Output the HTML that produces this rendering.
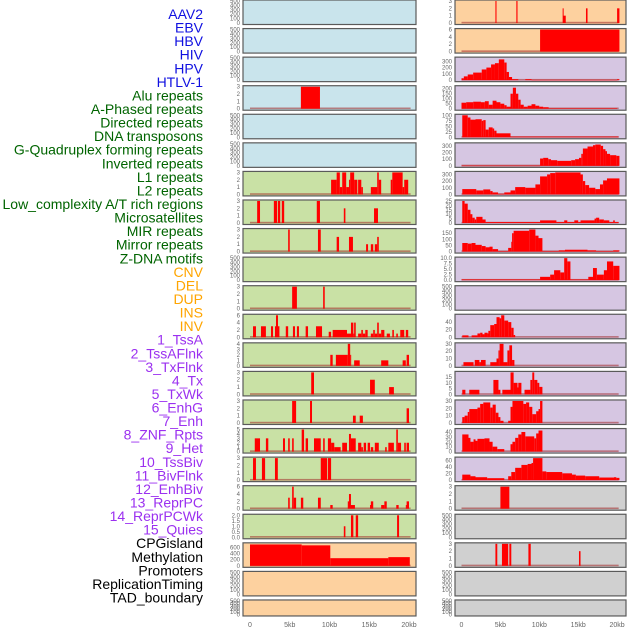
<!DOCTYPE html>
<html><head><meta charset="utf-8"><style>
html,body{margin:0;padding:0;background:#fff;width:630px;height:630px;overflow:hidden}
svg{display:block}
</style></head><body>
<svg id="chart" width="630" height="630" xmlns="http://www.w3.org/2000/svg" font-family="Liberation Sans, sans-serif"></svg>
<script>
const trackLabels=["AAV2","EBV","HBV","HIV","HPV","HTLV-1","Alu repeats","A-Phased repeats","Directed repeats","DNA transposons","G-Quadruplex forming repeats","Inverted repeats","L1 repeats","L2 repeats","Low_complexity A/T rich regions","Microsatellites","MIR repeats","Mirror repeats","Z-DNA motifs","CNV","DEL","DUP","INS","INV","1_TssA","2_TssAFlnk","3_TxFlnk","4_Tx","5_TxWk","6_EnhG","7_Enh","8_ZNF_Rpts","9_Het","10_TssBiv","11_BivFlnk","12_EnhBiv","13_ReprPC","14_ReprPCWk","15_Quies","CPGisland","Methylation","Promoters","ReplicationTiming","TAD_boundary"];
const labelGroups=["v","v","v","v","v","v","r","r","r","r","r","r","r","r","r","r","r","r","r","s","s","s","s","s","c","c","c","c","c","c","c","c","c","c","c","c","c","c","c","o","o","o","o","o"];
const xTickLabels=["0","5kb","10kb","15kb","20kb"];
const xTickValues=[0,5,10,15,20];
const leftBg=["b","b","b","b","b","b","g","g","g","g","g","g","g","g","g","g","g","g","g","o","o","o"];
const rightBg=["o","o","p","p","p","p","p","p","p","p","p","p","p","p","p","p","p","g2","g2","g2","g2","g2"];
const leftYmax=[500,500,500,3,500,500,3,3,3,500,3,6,4,3,3,5,3,6,2,720,500,500];
const rightYmax=[3,6,350,220,100,330,330,25,180,10,500,58,30,19,30,45,68,3,500,3,500,500];
const leftTicks=[[0,100,200,300,400,500],[0,100,200,300,400,500],[0,100,200,300,400,500],[0,1,2,3],[0,100,200,300,400,500],[0,100,200,300,400,500],[0,1,2,3],[0,1,2,3],[0,1,2,3],[0,100,200,300,400,500],[0,1,2,3],[0,2,4,6],[0,1,2,3,4],[0,1,2,3],[0,1,2,3],[0,1,2,3,4,5],[0,1,2,3],[0,2,4,6],["0.0","0.5","1.0","1.5","2.0"],[0,200,400,600],[0,100,200,300,400,500],[0,100,200,300,400,500]];
const rightTicks=[[0,1,2,3],[0,2,4,6],[0,100,200,300],[0,50,100,150,200],[0,25,50,75,100],[0,100,200,300],[0,100,200,300],[0,5,10,15,20,25],[0,50,100,150],["0.0","2.5","5.0","7.5","10.0"],[0,100,200,300,400,500],[0,20,40],[0,10,20,30],[0,5,10,15],[0,10,20,30],[0,10,20,30,40],[0,20,40,60],[0,1,2,3],[0,100,200,300,400,500],[0,1,2,3],[0,100,200,300,400,500],[0,100,200,300,400,500]];
const leftSegs=[[],[],[],[[6.4,8.8,3]],[],[],
[[10.2,10.9,2],[10.9,11.3,3],[11.3,11.6,1],[11.6,12.1,3],[12.1,12.45,1],[12.45,12.6,2],[12.6,13.1,3],[13.1,13.5,2],[13.6,14.0,2],[14.0,14.2,1],[15.2,16.0,1],[16.0,16.2,3],[16.2,16.5,2],[17.7,17.9,2],[17.9,19.2,3],[19.2,19.4,1],[19.4,19.9,2]],
[[0.9,1.26,3],[3.0,3.4,3],[3.5,3.8,3],[4.0,4.3,3],[8.4,8.8,3],[11.8,12.0,2],[15.6,16.1,2]],
[[4.8,5.0,3],[8.55,8.9,3],[10.9,11.2,2],[12.45,12.95,2],[14.6,14.85,1],[15.2,15.5,1],[15.7,16.0,1],[16.0,16.2,2]],
[],
[[5.3,5.9,3],[9.2,9.4,3]],
[[0.38,0.75,3],[1.38,2.0,3],[2.64,2.9,3],[3.14,3.27,3],[3.27,3.52,6],[3.52,3.7,3],[4.5,4.8,3],[5.4,5.66,3],[5.9,6.16,3],[7.0,7.3,3],[8.3,9.06,3],[9.9,10.2,1.5],[10.4,12.2,2],[12.2,12.7,1],[12.7,13.0,4],[13.0,13.1,1],[13.1,13.3,4],[13.6,14.0,1],[14.0,14.2,2],[14.2,14.5,1],[14.5,14.8,2],[15.2,15.5,1],[15.5,15.7,2],[15.7,16.0,1],[16.0,16.2,4],[16.2,16.5,1],[16.5,16.9,2],[17.2,17.6,1],[17.9,18.1,2],[18.4,18.6,1],[18.9,19.4,2],[19.6,19.9,2]],
[[10.1,10.4,2],[10.8,12.3,2],[12.3,12.6,4],[12.6,12.7,2],[13.1,13.8,1],[16.5,17.4,1],[19.2,19.6,1],[19.7,20.0,2]],
[[7.7,8.05,3],[15.1,15.7,2],[17.5,18.1,1]],
[[5.3,5.8,3],[7.55,7.8,3],[12.95,13.3,1],[13.8,14.2,1],[19.7,20.0,2]],
[[0.6,1.26,3],[2.0,2.3,3],[4.15,4.4,3],[4.8,5.0,3],[5.3,5.5,3],[6.5,6.8,5],[7.0,7.3,3],[8.05,8.9,3],[9.2,9.4,3],[9.8,10.2,3],[10.2,10.6,2],[10.6,11.4,1],[11.6,12.2,2],[12.45,12.7,4],[12.7,13.3,3],[13.6,14.0,2],[14.0,14.2,1],[14.3,14.6,2],[14.8,15.1,2],[15.2,15.5,1],[15.7,16.2,2],[17.0,17.2,1],[17.4,18.1,2],[18.4,18.6,5],[18.6,19.0,2],[19.4,19.6,2],[19.7,20.0,2]],
[[0.38,0.75,3],[1.5,1.9,3],[3.14,3.5,3],[8.9,9.7,3],[9.8,10.2,3]],
[[4.8,5.0,3],[5.3,5.5,6],[5.5,5.8,3],[6.4,6.7,3],[8.55,8.9,3],[10.1,10.4,1],[12.3,12.45,2],[12.45,12.7,4],[12.7,13.2,1],[15.1,15.2,1],[15.2,15.5,2],[16.5,16.9,1],[16.9,17.2,2],[18.4,18.7,1],[19.6,19.7,1],[19.7,20.0,2]],
[[11.8,12.0,1],[12.7,13.0,2],[13.3,13.6,2],[18.5,18.75,2]],
[[0,6.5,700],[6.5,10.1,670],[10.1,17.4,250],[17.4,20.1,285]],
[],[]];
const rightSegs=[
[[4.36,4.5,3],[7.05,7.2,3],[13.0,13.1,2],[13.1,13.4,1],[16.0,16.2,2],[20.0,20.3,2]],
[[10.1,20.3,6]],
[[0,0.3,30],[0.3,0.8,60],[0.8,1.5,90],[1.5,2.6,120],[2.6,3.2,170],[3.2,3.8,200],[3.8,4.3,250],[4.3,4.8,270],[4.8,5.5,330],[5.5,5.8,280],[5.8,6.1,130],[6.1,6.5,50],[6.5,7.3,15],[8.2,9.0,15],[9.0,20.0,5],[20.0,20.3,15]],
[[0,0.6,60],[0.6,1.5,65],[1.5,2.5,70],[2.5,3.0,65],[3.0,3.5,75],[3.5,4.0,40],[4.0,4.5,80],[4.5,5.0,65],[5.0,5.5,50],[5.5,5.8,35],[5.8,6.3,20],[6.3,6.6,150],[6.6,7.0,210],[7.0,7.3,150],[7.3,7.6,90],[7.6,8.0,40],[8.0,8.5,20],[8.5,9.0,30],[9.0,9.5,45],[9.5,10.0,30],[10.0,10.5,20],[10.5,11.2,15],[11.2,20,3]],
[[0.1,0.8,100],[0.8,1.15,90],[1.15,1.8,80],[1.8,2.6,82],[2.6,2.8,75],[2.8,3.1,78],[3.1,3.5,35],[3.5,4.0,45],[4.0,4.2,40],[4.2,4.5,30],[4.5,6.3,18],[6.3,20.2,3]],
[[0,10.1,3],[10.1,10.5,110],[10.5,11.15,120],[11.15,11.5,100],[11.5,12.3,85],[12.3,14.1,75],[14.1,14.6,85],[14.6,15.1,100],[15.1,15.4,120],[15.4,15.6,180],[15.6,16.2,260],[16.2,16.9,290],[16.9,17.2,310],[17.2,17.9,320],[17.9,18.2,300],[18.2,18.5,250],[18.5,18.7,220],[18.7,19.1,180],[19.1,19.9,160],[19.9,20.3,150]],
[[0.1,1.9,80],[1.9,2.8,60],[2.8,3.7,75],[3.7,4.0,50],[4.0,4.7,30],[4.7,5.5,10],[5.5,6.3,30],[6.3,6.9,60],[6.9,8.2,110],[8.2,9.5,100],[9.5,10.1,150],[10.1,11.0,270],[11.0,11.4,300],[11.4,12.05,320],[12.05,15.3,330],[15.3,15.6,300],[15.6,15.9,200],[15.9,16.4,140],[16.4,17.2,100],[17.2,17.8,80],[17.8,18.2,150],[18.2,18.7,210],[18.7,20.3,240]],
[[0.1,0.4,25],[0.4,0.8,22],[0.8,1.15,15],[1.15,1.4,10],[1.4,1.7,6],[1.7,1.9,4],[1.9,2.7,7],[2.7,3.1,4],[3.1,10.1,1],[10.1,12.2,3],[12.2,13.2,1],[13.2,13.6,3],[13.6,14.5,1],[14.5,15.0,3],[15.0,15.3,1],[15.3,17.1,3],[17.1,17.3,5],[17.3,17.7,6],[17.7,18.3,4],[18.3,19.0,3],[19.0,19.5,1],[19.5,19.7,3],[19.7,20.2,1]],
[[0.1,0.8,70],[0.8,1.3,65],[1.3,1.8,70],[1.8,2.6,55],[2.6,3.1,45],[3.1,3.6,35],[3.6,4.0,40],[4.0,4.7,20],[4.7,6.0,3],[6.0,6.4,30],[6.4,6.5,80],[6.5,6.7,150],[6.7,8.7,170],[8.7,9.5,180],[9.5,9.9,130],[9.9,10.4,110],[10.4,12.5,3],[12.5,13.3,10],[13.3,16.2,15],[16.2,17.3,10],[17.3,19.5,3],[19.5,20.3,10]],
[[0,10.1,0.3],[10.1,11.4,1.5],[11.4,11.9,2.5],[11.9,12.7,4.5],[12.7,13.2,3.5],[13.2,13.6,10],[13.6,14.0,8.5],[14.0,16.3,0.3],[16.3,16.9,1.5],[16.9,17.4,5.5],[17.4,18.3,2.5],[18.3,18.7,4.5],[18.7,19.5,8.5],[19.5,20.3,6.5]],
[],
[[0.1,0.9,5],[1.3,2.05,5],[2.05,2.4,10],[2.4,2.7,12],[2.7,2.95,8],[2.95,3.35,12],[3.35,3.45,10],[3.45,3.7,17],[3.7,4.2,32],[4.2,4.5,35],[4.5,4.9,53],[4.9,5.1,50],[5.1,5.5,58],[5.5,6.0,44],[6.0,6.4,40],[6.4,6.7,25],[6.7,6.9,6]],
[[0.25,1.55,5],[1.7,2.3,8],[2.3,2.5,5],[2.5,3.1,8],[3.7,4.5,5],[4.5,4.75,10],[4.75,4.9,21],[4.9,5.4,30],[5.4,5.9,5],[5.9,6.15,21],[6.15,6.5,28],[6.5,6.8,8]],
[[0.1,0.5,4],[1.0,2.3,4],[4.1,4.75,12.5],[4.75,5.0,4],[5.25,6.3,4],[6.3,6.7,19],[6.7,7.2,10],[7.2,7.3,6],[7.3,7.7,10],[8.1,8.85,4],[8.85,9.1,12.5],[9.1,9.35,19],[9.35,9.75,12.5],[9.75,10.0,10],[10.0,10.4,6.5]],
[[0.1,0.4,8],[0.4,0.8,10],[0.8,1.0,15],[1.0,2.05,19],[2.05,2.4,21],[2.4,2.8,26],[2.8,3.7,28],[3.7,4.0,21],[4.0,4.4,25],[4.4,4.75,14],[4.75,5.0,8],[5.0,5.4,3],[6.0,6.3,3],[6.3,6.55,22],[6.55,7.95,30],[7.95,8.3,26],[8.3,8.7,28],[8.7,9.1,22],[9.1,9.6,12],[9.6,9.9,16],[9.9,10.1,19],[10.1,10.4,30]],
[[0.1,0.9,35],[0.9,1.15,28],[1.15,1.55,20],[1.55,1.8,25],[1.8,2.05,22],[2.05,2.95,26],[2.95,3.6,27],[3.6,4.0,20],[4.0,4.6,10],[4.6,5.5,5],[6.3,6.55,15],[6.55,6.9,20],[6.9,7.3,28],[7.3,7.7,35],[7.7,8.2,40],[8.2,9.35,31],[9.35,9.6,27],[9.6,9.9,37],[9.9,10.4,43]],
[[0.1,1.15,17],[1.15,1.8,12],[1.8,3.3,9],[3.3,5.5,6],[6.0,6.4,12],[6.4,6.9,25],[6.9,7.7,38],[7.7,8.5,47],[8.5,9.0,50],[9.0,9.2,53],[9.2,10.4,68],[10.4,10.9,27],[10.9,12.95,25],[12.95,14.2,21],[14.2,14.7,17],[14.7,15.9,14],[15.9,17.7,12],[17.7,19.6,8],[19.6,19.9,9],[19.9,20.3,7]],
[[5.0,6.15,3]],
[],
[[4.36,4.6,3],[5.2,6.0,3],[6.15,6.4,3],[8.6,8.9,3],[15.1,15.3,2]],
[],[]];

const NS="http://www.w3.org/2000/svg";
const svg=document.getElementById('chart');
function mk(tag,attrs,parent){const e=document.createElementNS(NS,tag);for(const k in attrs)e.setAttribute(k,attrs[k]);(parent||svg).appendChild(e);return e;}
const bgColors={b:"#c9e4ec",g:"#c9e1a5",o:"#fdd19f",p:"#d6c6e2",g2:"#d0d0d0"};
const labelColors={v:"#1010e0",r:"#006400",s:"#ffa500",c:"#9b30f0",o:"#000000"};
const cols=[{x0:243,x1:416,ox:250,sx:7.95},{x0:455,x1:626,ox:461.5,sx:7.78}];
function xScale(col,kb){return cols[col].ox+kb*cols[col].sx;}
function rowTop(i){return i*28.57;}
function rowH(i){return i===21?16:24.5;}

// labels
trackLabels.forEach((t,i)=>{
  const e=mk('text',{x:203,y:14+i*13.57+5,'text-anchor':'end','font-size':'14',fill:labelColors[labelGroups[i]]});
  e.textContent=t;
  
  
});

function drawPanel(col,i,bg,ymax,ticks,segs){
  const g=mk('g',{});
  
  
  const t=rowTop(i),h=rowH(i),c=cols[col];
  const y0=t+h-1.5,y1=t+1;
  const yS=v=>y0-(v/ymax)*(y0-y1);
  const r=mk('rect',{x:c.x0,y:t,width:c.x1-c.x0,height:h,fill:bgColors[bg],stroke:"#5a5a5a",'stroke-width':1.2},g);
  
  
  ticks.forEach(tv=>{
    const v=parseFloat(tv);
    const tx=mk('text',{x:c.x0-3,y:yS(v)+2,'text-anchor':'end','font-size':'6',fill:"#666"},g);
    tx.textContent=String(tv);
    
    
  });
  if(ymax!==500){
    const bl=mk('rect',{x:xScale(col,0),y:y0-1.2,width:xScale(col,20.2)-xScale(col,0),height:1.6,fill:"rgba(160,40,40,0.55)"},g);
    
    
  }
  segs.forEach(s=>{
    const xa=xScale(col,s[0]),xb=xScale(col,s[1]),yt=yS(s[2]);
    const b=mk('rect',{x:xa,y:yt,width:Math.max(1,xb-xa),height:Math.max(0.5,y0-yt),fill:"#ff0000"},g);
    
    
  });
}
for(let i=0;i<22;i++){
  drawPanel(0,i,leftBg[i],leftYmax[i],leftTicks[i],leftSegs[i]);
  drawPanel(1,i,rightBg[i],rightYmax[i],rightTicks[i],rightSegs[i]);
}
[0,1].forEach(col=>{
  xTickValues.forEach((v,k)=>{
    const e=mk('text',{x:xScale(col,v),y:627,'text-anchor':'middle','font-size':'7',fill:"#666"});
    e.textContent=xTickLabels[k];
    
    
  });
});
</script>
</body></html>
